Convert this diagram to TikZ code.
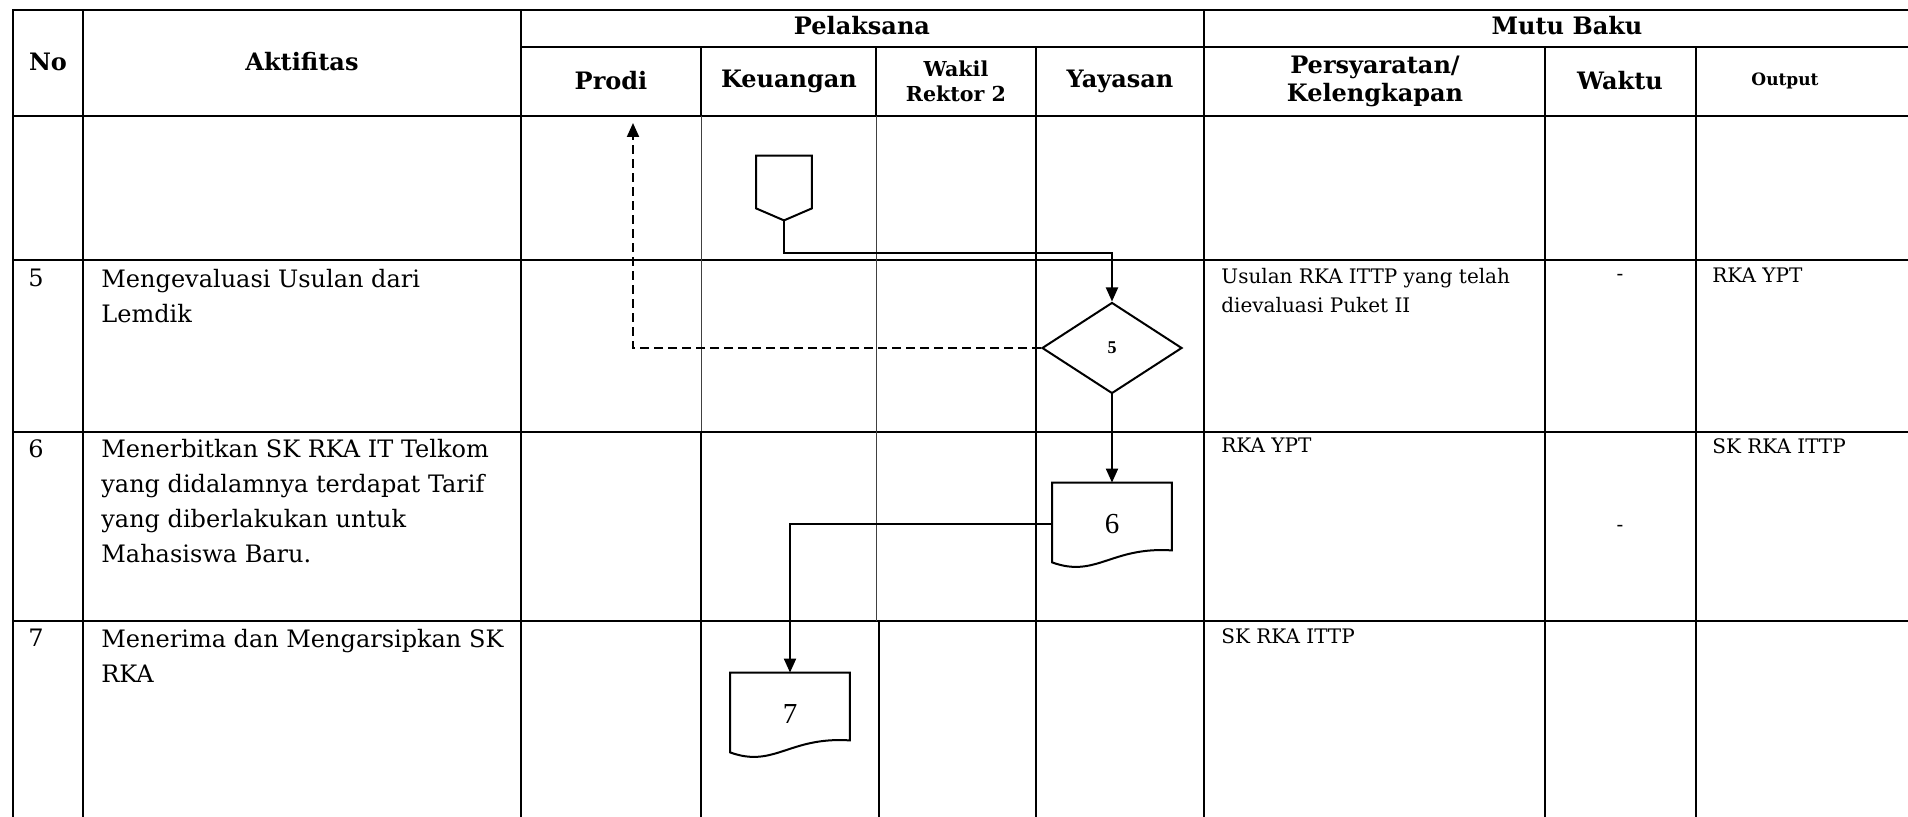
\documentclass[tikz,border=0pt]{standalone}
\usepackage{fontspec}
\setmainfont{DejaVu Serif}
\newfontfamily\timesfont{Liberation Serif}
\usetikzlibrary{arrows.meta, positioning, shapes.geometric, calc}

\newcommand{\docshape}[1]{%
  \draw[outline] ($(#1.south east)+(0pt,8pt)$) -- (#1.north east) -- (#1.north west)
    -- ($(#1.south west)+(0pt,2pt)$)
    .. controls ($(#1.south west)+(22pt,-6pt)$) and ($(#1.south west)+(29.5pt,10pt)$)
    .. ($(#1.south east)+(0pt,8pt)$) -- cycle;}

\begin{document}
\begin{tikzpicture}[x=0.5pt, y=-0.5pt,
  thickrule/.style={line width=1.35pt, line cap=rect},
  thinrule/.style={line width=0.5pt, draw=black!75},
  head/.style={font=\fontsize{12}{14}\selectfont\bfseries, align=center, inner sep=0pt},
  cell/.style={font=\fontsize{12}{17.5}\selectfont, align=left, anchor=north west, inner sep=0pt},
  smallcell/.style={font=\fontsize{10}{14.5}\selectfont, align=left, anchor=north west, inner sep=0pt},
  docbox/.style={minimum width=59.5pt, minimum height=41.5pt, inner sep=0pt,
                 font=\timesfont\fontsize{14.5}{16}\selectfont},
  offpage/.style={minimum width=27.5pt, minimum height=26pt, inner sep=0pt},
  decide/.style={diamond, draw, line width=1pt, minimum width=70pt, minimum height=45.5pt,
                 inner sep=0pt, font=\timesfont\bfseries\fontsize{9}{10}\selectfont},
  outline/.style={line width=1pt},
  flow/.style={line width=1pt, -{Triangle[length=7pt,width=6pt]}},
  back/.style={flow, dash pattern=on 4.5pt off 2.5pt}
]
\useasboundingbox (0,0) rectangle (1908,817);

% table rules
\foreach \y in {10,116,260,432,621}
  \draw[thickrule] (13,\y) -- (1908,\y);
\draw[thickrule] (521,47) -- (1908,47);
\foreach \x in {13,83,521,1204}
  \draw[thickrule] (\x,10) -- (\x,817);
\foreach \x in {1036,1545,1696}
  \draw[thickrule] (\x,47) -- (\x,817);
\draw[thickrule] (701,47) -- (701,116);
\draw[thinrule]  (701,116) -- (701,432);
\draw[thickrule] (701,432) -- (701,817);
\draw[thickrule] (876,47) -- (876,116);
\draw[thinrule]  (876,116) -- (876,621);
\draw[thickrule] (879,621) -- (879,817);

% header
\node[head] (hno)    at (48,62)    {No};
\node[head] (hakt)   at (302,62)   {Aktifitas};
\node[head] (hpel)   at (862,26)   {Pelaksana};
\node[head] (hmutu)  at (1567,26)  {Mutu Baku};
\node[head] (hprodi) at (611,81)   {Prodi};
\node[head] (hkeu)   at (789,81)   {Keuangan};
\node[head, font=\fontsize{10.3}{12.5}\selectfont\bfseries] (hwr) at (956,81) {Wakil\\Rektor 2};
\node[head] (hyay)   at (1120,81)  {Yayasan};
\node[head] (hpers)  at (1375,81)  {Persyaratan/\\Kelengkapan};
\node[head] (hwaktu) at (1620,81)  {Waktu};
\node[head, font=\fontsize{8.5}{10}\selectfont\bfseries] (hout) at (1785,81) {Output};

% rows
\node[cell] (no5)  at (28,269)  {5};
\node[cell] (akt5) at (101,269) {Mengevaluasi Usulan dari\\Lemdik};
\node[cell] (no6)  at (28,439)  {6};
\node[cell] (akt6) at (101,439) {Menerbitkan SK RKA IT Telkom\\yang didalamnya terdapat Tarif\\yang diberlakukan untuk\\Mahasiswa Baru.};
\node[cell] (no7)  at (28,629)  {7};
\node[cell] (akt7) at (101,629) {Menerima dan Mengarsipkan SK\\RKA};

\node[smallcell] (syr5) at (1221,268) {Usulan RKA ITTP yang telah\\dievaluasi Puket II};
\node[smallcell, anchor=center] (wkt5) at (1620,277) {-};
\node[smallcell] (out5) at (1712,268) {RKA YPT};
\node[smallcell] (syr6) at (1221,438) {RKA YPT};
\node[smallcell, anchor=center] (wkt6) at (1620,528) {-};
\node[smallcell] (out6) at (1712,438) {SK RKA ITTP};
\node[smallcell] (syr7) at (1221,628) {SK RKA ITTP};

% flow
\node[offpage] (op) at (784,182) {};
\coordinate (optip) at ([yshift=-6pt]op.south);
\draw[outline] (op.north west) -- (op.north east) -- (op.south east) -- (optip)
  -- (op.south west) -- cycle;
\node[decide] (dec) at (1112,348) {5};
\node[docbox] (d6) at (1112,524.5) {6};
\docshape{d6}
\node[docbox] (d7) at (790,714.5) {7};
\docshape{d7}
\coordinate (prodiup) at (633,123);

\draw[flow] (optip) -- ++(0,33) -| (dec.north);
\draw[back] (dec.west) -| (prodiup);
\draw[flow] (dec.south) -- (d6.north);
\draw[flow] (d6.west) -| (d7.north);

\end{tikzpicture}
\end{document}
